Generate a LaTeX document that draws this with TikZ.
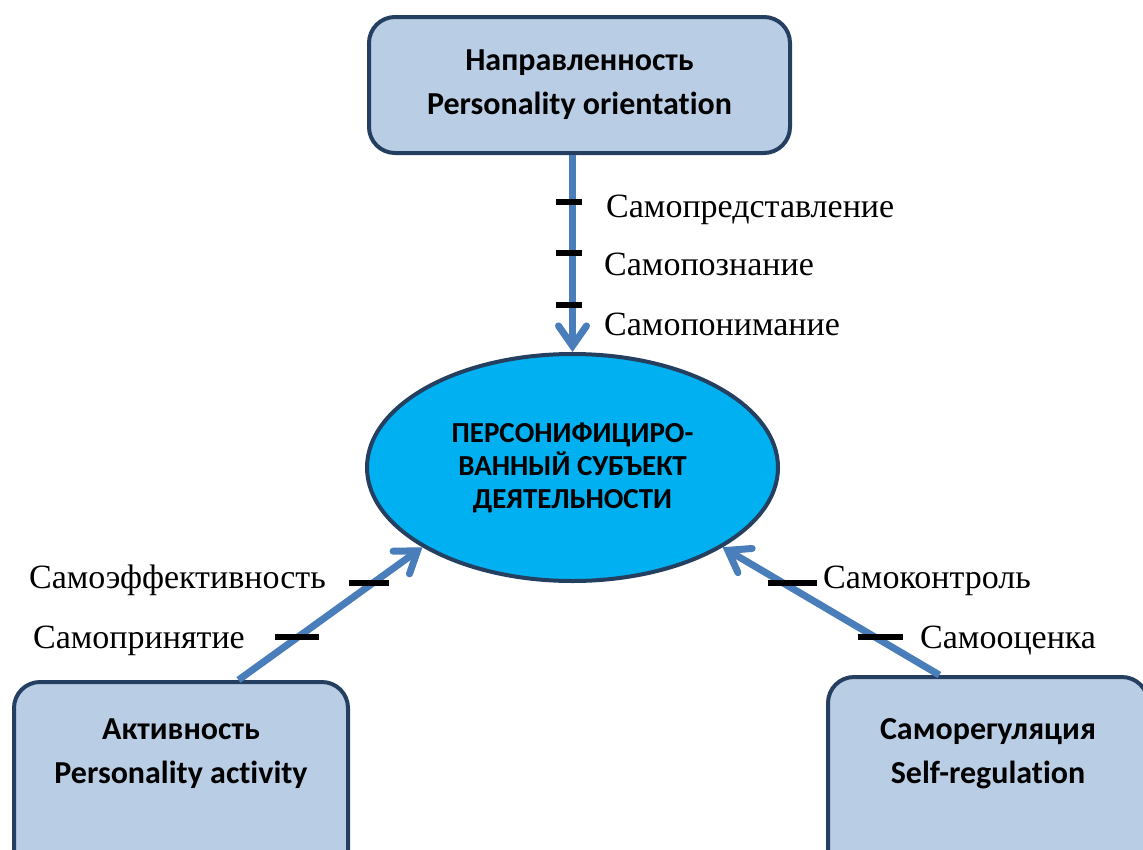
\documentclass[tikz,border=0pt]{standalone}
\usepackage{fontspec}
\setmainfont{Liberation Serif}
\newfontfamily\calibri{Carlito}[Ligatures=CommonOff]
\usetikzlibrary{shapes,arrows.meta,calc}
\definecolor{boxfill}{HTML}{B9CDE5}
\definecolor{boxline}{HTML}{243F60}
\definecolor{subjfill}{HTML}{00B0F0}
\definecolor{flowblue}{HTML}{4A7EBB}
\tikzset{block/.style={draw=boxline, fill=boxfill, line width=4pt, rounded corners=26pt, align=center, font=\calibri\bfseries\fontsize{32}{44}\selectfont}}
\tikzset{openblock/.style={block, anchor=north, inner ysep=0pt, text height=101pt, text depth=200pt}}
\tikzset{subject/.style={ellipse, draw=boxline, fill=subjfill, line width=4pt, inner sep=0pt, minimum width=411pt, minimum height=227pt, align=center, font=\calibri\bfseries\fontsize{29}{33}\selectfont}}
\tikzset{flow/.style={draw=flowblue, line width=7pt, -{Straight Barb[length=20pt, width=28pt, line cap=round]}}}
\tikzset{selfnote/.style={font=\fontsize{34}{34}\selectfont, inner sep=0pt}}
\tikzset{bar/.style={line width=5.5pt}}

\begin{document}
\begin{tikzpicture}[x=1pt, y=-1pt]
\useasboundingbox (0,0) rectangle (1143,849);
\clip (0,0) rectangle (1143,849);
\node [block, minimum width=421pt, minimum height=136pt] (orient) at (579.5,85) {Направленность\\Personality orientation};
\node [subject] (subj) at (572.5,467.5) {ПЕРСОНИФИЦИРО-\\ВАННЫЙ СУБЪЕКТ\\ДЕЯТЕЛЬНОСТИ};
\node [openblock, minimum width=334pt] (activ) at (181,680) {Активность\\Personality activity};
\node [openblock, minimum width=320pt, text height=106pt] (regul) at (988,675) {Саморегуляция\\Self-regulation};
%Flows
\draw [flow] (subj.north |- orient.south) -- (subj.north);
\draw [flow] ($(activ.north west)!0.67!(activ.north east)$) -- (subj.208);
\draw [flow] ($(regul.north west)!0.35!(regul.north east)$) -- (subj.332);
%Bars
\foreach \xa/\xb/\yy in {556/582/202, 556/582/253, 556/582/305, 349/389/583, 275/319/637, 768/817/583, 858/903/637}
  \draw [bar] (\xa,\yy) -- (\xb,\yy);
%Notes
\node [selfnote, anchor=base west] (present) at (606,217) {Самопредставление};
\node [selfnote, anchor=base west] (cognit) at (604,275) {Самопознание};
\node [selfnote, anchor=base west] (underst) at (604,335) {Самопонимание};
\node [selfnote, anchor=base east] (effic) at (326,588) {Самоэффективность};
\node [selfnote, anchor=base east] (accept) at (245,648) {Самопринятие};
\node [selfnote, anchor=base west] (control) at (823,588) {Самоконтроль};
\node [selfnote, anchor=base west] (esteem) at (920,648) {Самооценка};
\end{tikzpicture}
\end{document}
